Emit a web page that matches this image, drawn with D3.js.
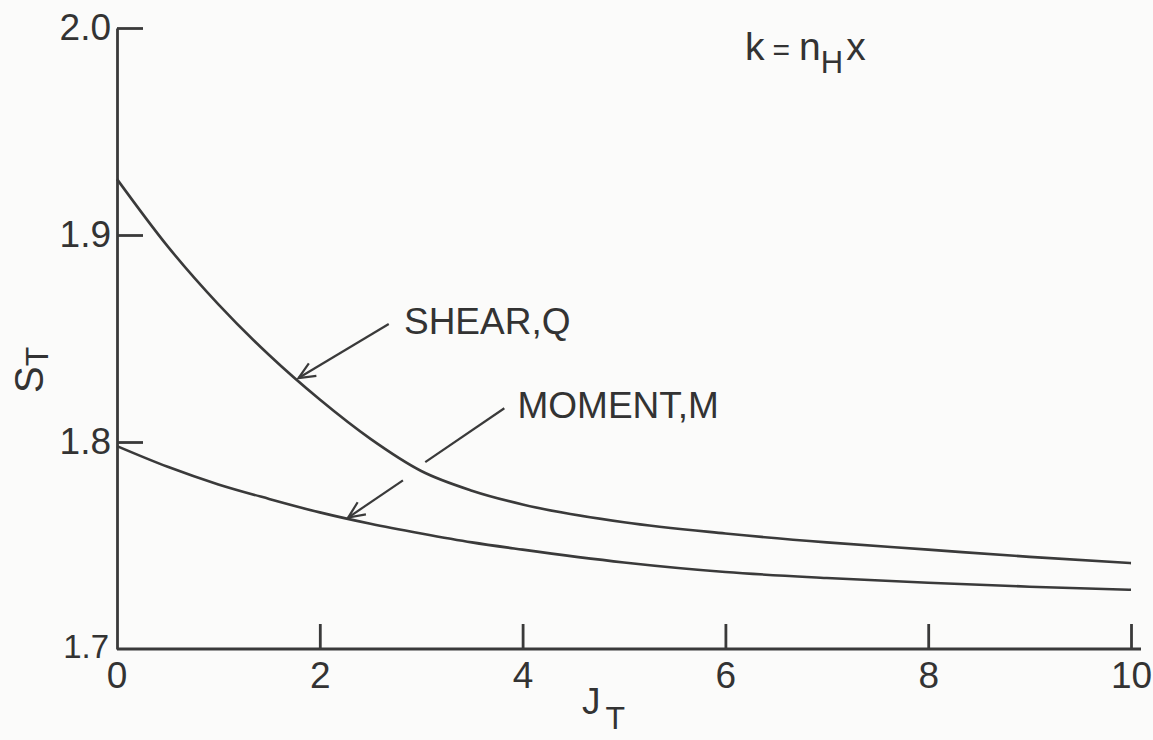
<!DOCTYPE html>
<html>
<head>
<meta charset="utf-8">
<script src="https://cdn.jsdelivr.net/npm/d3@7"></script>
<style>
  html, body { margin: 0; padding: 0; background: #fbfbfa; }
  svg { display: block; }
  text { font-family: "Liberation Sans", Arial, sans-serif; fill: #333; }
</style>
</head>
<body>
<svg id="chart" width="1153" height="740"></svg>
<script>
// Stress factor S_T against J_T, for k = n_H x
const jValues      = [0, 0.5, 1, 1.5, 2, 2.5, 3, 3.5, 4, 5, 6, 7, 8, 9, 10];
const shearValues  = [1.927, 1.8945, 1.8665, 1.842, 1.8205, 1.8015, 1.786, 1.7765, 1.7698, 1.7612, 1.7558, 1.7515, 1.748, 1.7445, 1.7415];
const momentValues = [1.798, 1.788, 1.7795, 1.7725, 1.766, 1.7605, 1.7558, 1.7515, 1.748, 1.7418, 1.7372, 1.7343, 1.732, 1.7301, 1.7286];

const xTicks = [2, 4, 6, 8, 10];
const xTickLabels = ["2", "4", "6", "8", "10"];
const yTicks = [1.7, 1.8, 1.9, 2.0];
const yTickLabels = ["1.7", "1.8", "1.9", "2.0"];

const svg = d3.select("#chart");
const ink = "#3a3a3a";

const x = d3.scaleLinear().domain([0, 10]).range([117, 1131]);
const y = d3.scaleLinear().domain([1.7, 2.0]).range([649, 28]);

// x axis: ticks point upward into the plot, labels below
const xAxis = svg.append("g")
  .attr("transform", `translate(0,${y(1.7)})`)
  .call(d3.axisBottom(x).tickValues(xTicks).tickFormat((d, i) => xTickLabels[i])
    .tickSizeInner(-25).tickSizeOuter(0).tickPadding(13));
xAxis.select(".domain").attr("d", `M${x(0)},0H${x(10) + 10}`);

// y axis: ticks point right into the plot, labels on the left
const yAxis = svg.append("g")
  .attr("transform", `translate(${x(0)},0)`)
  .call(d3.axisLeft(y).tickValues(yTicks).tickFormat((d, i) => yTickLabels[i])
    .tickSizeInner(-26).tickSizeOuter(0).tickPadding(6));

[xAxis, yAxis].forEach(g => {
  g.selectAll(".domain, .tick line").attr("stroke", ink).attr("stroke-width", 2.8);
  g.selectAll(".tick text").style("font-size", "37px").attr("fill", "#333");
});
// origin labels: "0" sits under the corner, "1.7" tucked to its left
xAxis.append("text").attr("x", x(0)).attr("y", 13).attr("dy", "0.71em")
  .attr("text-anchor", "middle").style("font-size", "37px").attr("fill", "#333").text("0");
yAxis.selectAll(".tick").filter(d => d === 1.7).select("line").remove();
yAxis.selectAll(".tick").filter(d => d === 1.7).select("text")
  .style("font-size", "33px").attr("x", -8).attr("dy", "0.25em");

// curves
const line = d3.line().x(d => x(d[0])).y(d => y(d[1])).curve(d3.curveMonotoneX);
const shear = jValues.map((j, i) => [j, shearValues[i]]);
const moment = jValues.map((j, i) => [j, momentValues[i]]);
[shear, moment].forEach(s => {
  svg.append("path").datum(s).attr("d", line)
    .attr("fill", "none").attr("stroke", ink).attr("stroke-width", 2.6);
});

// labels with leader arrows
function arrow(from, to) {
  const [x1, y1] = [x(from[0]), y(from[1])];
  const [x2, y2] = [x(to[0]), y(to[1])];
  const a = Math.atan2(y2 - y1, x2 - x1);
  const len = 18, spread = 0.42;
  const g = svg.append("g").attr("stroke", ink).attr("stroke-width", 2.2).attr("fill", "none");
  g.append("line").attr("x1", x1).attr("y1", y1).attr("x2", x2).attr("y2", y2);
  g.append("path").attr("d",
    `M${x2 - len * Math.cos(a - spread)},${y2 - len * Math.sin(a - spread)}` +
    `L${x2},${y2}` +
    `L${x2 - len * Math.cos(a + spread)},${y2 - len * Math.sin(a + spread)}`);
  return g;
}

arrow([2.68, 1.8570], [1.79, 1.8309]);
svg.append("text").attr("x", x(2.83)).attr("y", y(1.8520))
  .style("font-size", "37px").text("SHEAR,Q");

// moment leader is broken where it passes the shear curve
const mg = svg.append("g").attr("stroke", ink).attr("stroke-width", 2.2);
mg.append("line").attr("x1", x(3.82)).attr("y1", y(1.8163)).attr("x2", x(3.04)).attr("y2", y(1.7903));
arrow([2.82, 1.7815], [2.28, 1.7635]);
svg.append("text").attr("x", x(3.95)).attr("y", y(1.8115))
  .style("font-size", "37px").text("MOMENT,M");

// parameter note
const note = svg.append("text").attr("x", 745).attr("y", 60).style("font-size", "39px");
note.append("tspan").text("k");
note.append("tspan").attr("dx", 8).style("font-size", "30px").text("=");
note.append("tspan").attr("dx", 9).text("n");
note.append("tspan").attr("dy", 13).style("font-size", "31px").text("H");
note.append("tspan").attr("dx", 3).attr("dy", -13).text("x");

// axis titles
const yTitle = svg.append("text").attr("transform", "translate(43,393) rotate(-90)")
  .style("font-size", "40px");
yTitle.append("tspan").text("S");
yTitle.append("tspan").attr("dy", 5).style("font-size", "32px").text("T");

const xTitle = svg.append("text").attr("x", 582).attr("y", 714).style("font-size", "37px");
xTitle.append("tspan").text("J");
xTitle.append("tspan").attr("dx", 5).attr("dy", 15).style("font-size", "32px").text("T");
</script>
</body>
</html>
